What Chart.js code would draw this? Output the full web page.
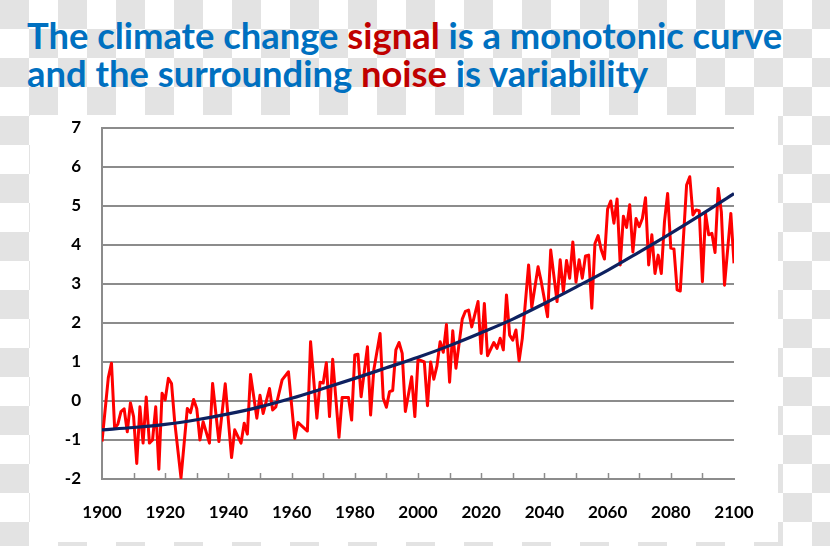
<!DOCTYPE html>
<html>
<head>
<meta charset="utf-8">
<script src="https://cdn.jsdelivr.net/npm/chart.js@4"></script>
<style>
  html, body { margin: 0; padding: 0; }
  body {
    width: 830px; height: 546px; position: relative; overflow: hidden;
    background-color: #fff;
    background-image: conic-gradient(#fff 25%, #e3e3e3 0 50%, #fff 0 75%, #e3e3e3 0);
    background-size: 58px 58px;
  }
  #panel { position: absolute; left: 30px; top: 115px; width: 748px; height: 427px; background: #fff; }
  .title {
    position: absolute; left: 27px; font-family: Lato, sans-serif; font-weight: 700;
    color: #0070C0; white-space: nowrap; line-height: 1; font-size: 34px;
  }
  .title span { color: #C00000; }
  #chart { position: absolute; left: 0; top: 0; }
</style>
</head>
<body>
<div id="panel"></div>
<div class="title" id="t1">The climate change <span>signal</span> is a monotonic curve</div>
<div class="title" id="t2">and the surrounding <span>noise</span> is variability</div>
<canvas id="chart" width="830" height="546"></canvas>
<script>
// noisy yearly values (red line)
const years = [1900, 1902, 1903, 1904, 1905, 1906, 1907, 1908, 1909, 1910, 1911, 1912, 1913, 1914, 1915, 1916, 1917, 1918, 1919, 1920,
  1921, 1922, 1923, 1925, 1927, 1928, 1929, 1930, 1931, 1932, 1934, 1935, 1937, 1939, 1941, 1942, 1944, 1945, 1946, 1947,
  1949, 1950, 1951, 1953, 1954, 1955, 1957, 1959, 1961, 1962, 1965, 1966, 1968, 1969, 1970, 1971, 1972, 1973, 1975, 1976,
  1978, 1979, 1980, 1981, 1982, 1984, 1985, 1986, 1988, 1989, 1990, 1991, 1992, 1993, 1994, 1995, 1996, 1998, 1999, 2000,
  2002, 2003, 2004, 2005, 2006, 2007, 2008, 2009, 2010, 2011, 2012, 2014, 2015, 2016, 2017, 2019, 2020, 2021, 2022, 2024,
  2025, 2026, 2027, 2028, 2029, 2030, 2031, 2032, 2033, 2035, 2036, 2038, 2039, 2041, 2042, 2044, 2045, 2046, 2047, 2048,
  2049, 2050, 2051, 2052, 2053, 2054, 2055, 2056, 2057, 2058, 2059, 2060, 2061, 2062, 2063, 2064, 2065, 2066, 2067, 2068,
  2069, 2070, 2071, 2072, 2073, 2074, 2075, 2076, 2077, 2078, 2079, 2080, 2081, 2082, 2083, 2085, 2086, 2087, 2088, 2089,
  2090, 2091, 2092, 2093, 2094, 2095, 2096, 2097, 2099, 2100];
const noise = [-1.04, 0.6, 0.97, -0.7, -0.6, -0.27, -0.2, -0.79, -0.05, -0.4, -1.6, -0.15, -1.08, 0.1, -1.08, -1.0, -0.15, -1.75, 0.2, 0.03,
  0.58, 0.45, -0.53, -1.97, -0.19, -0.3, 0.04, -0.2, -1.0, -0.53, -1.08, 0.45, -1.04, 0.44, -1.45, -0.74, -1.08, -0.57, -0.85, 0.68,
  -0.44, 0.15, -0.32, 0.32, -0.23, -0.15, 0.54, 0.75, -0.96, -0.55, -0.77, 1.52, -0.44, 0.48, 0.46, 0.98, -0.4, 1.07, -0.93, 0.09,
  0.09, -0.49, 1.18, 1.2, 0.11, 1.39, -0.36, 0.79, 1.73, 0.07, -0.16, 0.24, 0.27, 1.31, 1.5, 1.22, -0.27, 0.62, -0.4, 1.07,
  1.0, -0.12, 1.0, 0.56, 0.9, 1.52, 1.25, 1.96, 0.48, 1.8, 0.84, 2.1, 2.3, 2.33, 1.9, 2.55, 1.22, 2.5, 1.16, 1.5,
  1.35, 1.61, 1.31, 2.72, 1.69, 1.56, 1.82, 1.03, 1.6, 3.49, 2.4, 3.44, 3.06, 2.16, 3.87, 2.55, 3.62, 2.8, 3.6, 3.15,
  4.08, 3.05, 3.62, 3.15, 3.72, 3.74, 2.38, 4.04, 4.24, 3.87, 3.64, 4.92, 5.13, 4.56, 5.18, 3.49, 4.74, 4.45, 5.03, 3.82,
  4.68, 4.47, 4.68, 5.21, 3.49, 4.26, 3.27, 3.74, 3.27, 4.6, 5.32, 3.92, 3.9, 2.85, 2.82, 5.54, 5.75, 4.77, 4.9, 4.88,
  3.06, 4.81, 4.26, 4.3, 3.81, 5.45, 4.85, 2.97, 4.81, 3.53];

// smooth signal (navy curve)
const signalYears = [1900, 1910, 1920, 1930, 1940, 1950, 1960, 1970, 1980, 1990, 2000, 2010, 2020, 2030, 2040, 2050, 2060, 2070, 2080, 2090, 2100];
const signal = [-0.74, -0.68, -0.6, -0.48, -0.33, -0.15, 0.07, 0.32, 0.58, 0.85, 1.12, 1.42, 1.75, 2.1, 2.5, 2.92, 3.35, 3.82, 4.3, 4.8, 5.32];

// fit title width
const t1 = document.getElementById('t1');
const t2 = document.getElementById('t2');
const fs = 34 * 755 / t1.offsetWidth;
t1.style.fontSize = fs + 'px';
t2.style.fontSize = fs + 'px';
t1.style.top = (49 - 0.887 * fs) + 'px';
t2.style.top = (87 - 0.887 * fs) + 'px';

const gridGray = '#8c8c8c';

const minorTicks = {
  id: 'minorTicks',
  beforeDatasetsDraw(chart) {
    const xs = chart.scales.x;
    const ctx = chart.ctx;
    const bottom = chart.chartArea.bottom;
    ctx.save();
    ctx.strokeStyle = gridGray;
    ctx.lineWidth = 1.5;
    for (let v = xs.min + 10; v < xs.max; v += 10) {
      const px = Math.round(xs.getPixelForValue(v)) + 0.5;
      ctx.beginPath();
      ctx.moveTo(px, bottom);
      ctx.lineTo(px, bottom - 6);
      ctx.stroke();
    }
    ctx.restore();
  }
};

const tickFont = { family: 'Lato, sans-serif', size: 17, weight: 'bold' };

new Chart(document.getElementById('chart'), {
  type: 'line',
  data: {
    datasets: [
      {
        label: 'signal',
        data: signalYears.map((x, i) => ({ x: x, y: signal[i] })),
        borderColor: '#0E2160',
        borderWidth: 3.2,
        pointRadius: 0,
        cubicInterpolationMode: 'monotone',
      },
      {
        label: 'noise',
        data: years.map((x, i) => ({ x: x, y: noise[i] })),
        borderColor: '#FF0000',
        borderWidth: 3,
        pointRadius: 0,
        tension: 0,
        borderJoinStyle: 'round',
      },
    ],
  },
  options: {
    responsive: false,
    animation: false,
    layout: { padding: { left: 0, top: 128, right: 96, bottom: 0 } },
    plugins: { legend: { display: false }, tooltip: { enabled: false } },
    scales: {
      x: {
        type: 'linear',
        min: 1900,
        max: 2100,
        afterFit: (s) => { s.height = 67; },
        ticks: { stepSize: 20, font: tickFont, color: '#000', padding: 23, callback: (v) => String(v) },
        grid: { display: false, drawTicks: false },
        border: { display: true, color: gridGray, width: 2 },
      },
      y: {
        min: -2,
        max: 7,
        afterFit: (s) => { s.width = 102; },
        ticks: { stepSize: 1, font: tickFont, color: '#000', padding: 21 },
        grid: { color: gridGray, lineWidth: 2, drawTicks: false },
        border: { display: true, color: gridGray, width: 2 },
      },
    },
  },
  plugins: [minorTicks],
});
</script>
</body>
</html>
